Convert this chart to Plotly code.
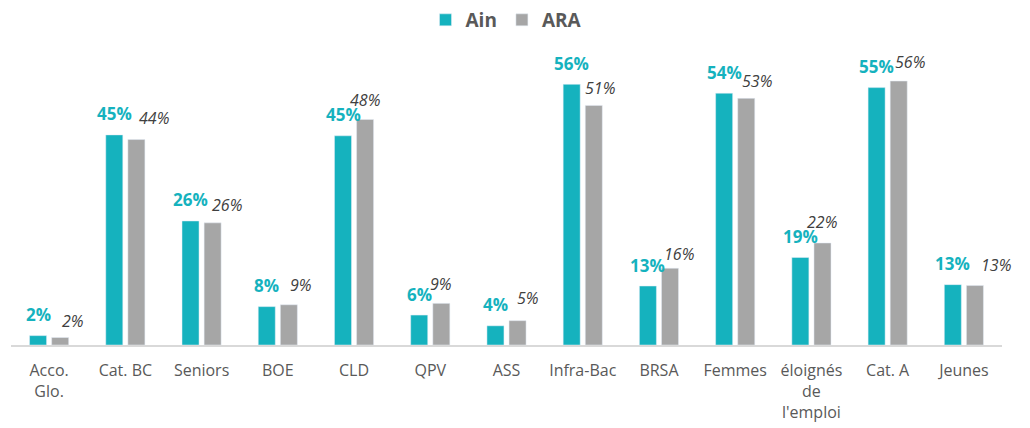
import plotly.graph_objects as go

categories = ["Acco.<br>Glo.", "Cat. BC", "Seniors", "BOE", "CLD", "QPV", "ASS",
              "Infra-Bac", "BRSA", "Femmes", "éloignés<br>de<br>l'emploi", "Cat. A", "Jeunes"]
ain = [2.0, 44.9, 26.5, 8.2, 44.7, 6.4, 4.1, 55.7, 12.6, 53.8, 18.7, 55.0, 12.9]
ara = [1.6, 43.9, 26.1, 8.6, 48.2, 8.9, 5.2, 51.2, 16.4, 52.7, 21.8, 56.4, 12.7]
ain_labels = ["2%", "45%", "26%", "8%", "45%", "6%", "4%", "56%", "13%", "54%", "19%", "55%", "13%"]
ara_labels = ["2%", "44%", "26%", "9%", "48%", "9%", "5%", "51%", "16%", "53%", "22%", "56%", "13%"]

# label placement tweaks (pixels), styling only
ara_dx = [12.5, 17.5, 14.5, 11.7, 0, 0, 10, 6.5, 9, 11, 0, 11.5, 20.7]
ara_dy = [17, 22, 17.6, 20, 19.7, 19.7, 23, 17, 14, 17.7, 21, 18.7, 21]

TEAL = "#15B2BE"
GRAY = "#A6A6A6"
FONT = "Open Sans"

fig = go.Figure()
fig.add_trace(go.Bar(x=categories, y=ain, name="Ain", marker_color=TEAL, hoverinfo="skip"))
fig.add_trace(go.Bar(x=categories, y=ara, name="ARA", marker_color=GRAY, hoverinfo="skip"))

annotations = []
for c, v, t in zip(categories, ain, ain_labels):
    annotations.append(dict(x=c, y=v, text=t, showarrow=False, xref="x", yref="y",
                            xanchor="center", yanchor="middle", xshift=-11, yshift=21,
                            font=dict(family=FONT, size=17, color=TEAL, weight="bold")))
for c, v, t, dx, dy in zip(categories, ara, ara_labels, ara_dx, ara_dy):
    annotations.append(dict(x=c, y=v, text=t, showarrow=False, xref="x", yref="y",
                            xanchor="center", yanchor="middle", xshift=11 + dx, yshift=dy,
                            font=dict(family=FONT, size=16, color="#404040", style="italic")))

fig.update_layout(
    width=1030, height=428,
    margin=dict(l=11, r=28, t=60, b=83, autoexpand=False),
    paper_bgcolor="white", plot_bgcolor="white",
    barmode="group", bargap=0.42, bargroupgap=0.23,
    showlegend=True,
    legend=dict(orientation="h", x=0.5, xanchor="center",
                yref="container", y=1 - 20 / 428, yanchor="middle",
                font=dict(family=FONT, size=19, color="#595959", weight="bold"),
                itemclick=False, itemdoubleclick=False),
    annotations=annotations,
    font=dict(family=FONT),
)
fig.update_xaxes(showline=True, linecolor="#D9D9D9", linewidth=2, ticks="",
                 range=[-0.5, len(categories) - 0.5], autorange=False,
                 tickfont=dict(family=FONT, size=16, color="#595959"),
                 ticklabelstandoff=10, showgrid=False, zeroline=False, automargin=False)
fig.update_yaxes(visible=False, range=[0, 60.9], showgrid=False, zeroline=False, automargin=False)

fig.write_html("out.html", config={"displayModeBar": False},
               post_script="document.body.style.margin='0';document.body.style.overflow='hidden';")
